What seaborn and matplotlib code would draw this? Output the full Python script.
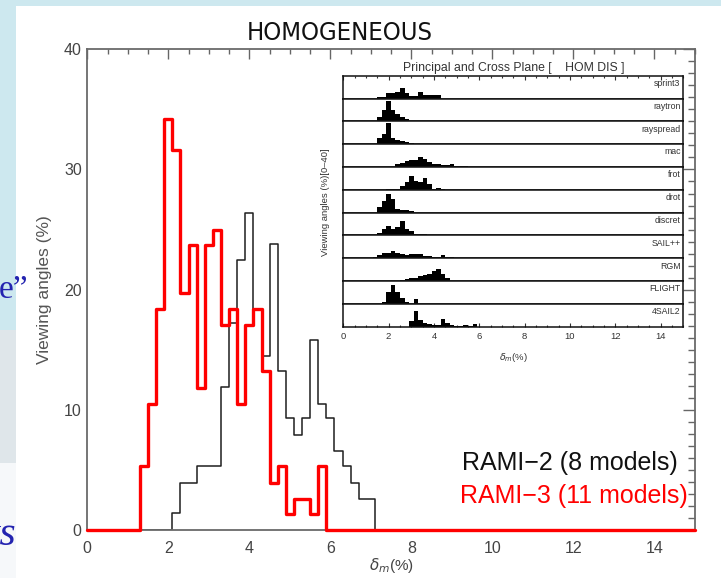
import numpy as np
import matplotlib
matplotlib.use("Agg")
import matplotlib.pyplot as plt
import seaborn as sns
from matplotlib import font_manager
from matplotlib.font_manager import FontProperties
from matplotlib.patches import Rectangle
from matplotlib.ticker import MultipleLocator

# delta_m bins: 0.2 % wide, left edges starting at 1.3 %
bin_start = 1.3
bin_width = 0.2

# main panel: viewing angles (%) per bin
rami2 = [0, 0, 0, 0, 1.4, 3.9, 3.9, 5.3, 5.3, 5.3, 11.9, 17.2, 22.5, 26.4, 18.4,
         14.5, 23.8, 13.2, 9.3, 7.9, 9.3, 15.8, 10.5, 9.3, 6.6, 5.3, 3.9, 2.6, 2.6]
rami3 = [5.3, 10.5, 18.4, 34.2, 31.6, 19.7, 23.7, 11.8, 23.7, 25.0, 17.1, 18.4,
         10.5, 17.1, 18.4, 13.2, 3.9, 5.3, 1.3, 2.6, 2.6, 1.3, 5.3, 0, 0, 0, 0, 0, 0]

# inset: one histogram per model, same bin grid
inset_models = ["sprint3", "raytron", "rayspread", "mac", "frot", "drot",
                "discret", "SAIL++", "RGM", "FLIGHT", "4SAIL2"]
sprint3 = [0, 2, 3, 9, 9, 12, 19, 9, 5, 5, 12, 7, 6, 6, 6]
raytron = [0, 7, 19, 35, 20, 13, 7, 4]
rayspread = [0, 10, 18, 37, 10, 8, 6, 4, 2]
mac = [0, 0, 0, 0, 0, 6, 7, 10, 12, 12, 18, 14, 9, 6, 6, 4, 3, 5, 2, 2, 1]
frot = [0, 0, 0, 1, 1, 2, 7, 14, 25, 15, 13, 20, 11, 2, 4, 2]
drot = [0, 9, 20, 33, 23, 7, 5, 4, 3]
discret = [0, 4, 11, 16, 12, 15, 25, 11, 7, 3, 3, 3]
sailpp = [3, 6, 9, 10, 12, 10, 8, 6, 8, 8, 8, 4, 4, 3, 2, 5, 2, 2]
rgm = [0, 0, 0, 0, 0, 0, 2, 3, 5, 6, 9, 11, 13, 18, 21, 13, 6]
flight = [0, 0, 4, 21, 33, 20, 10, 4, 0, 8]
foursail2 = [0, 0, 0, 0, 0, 0, 0, 0, 10, 28, 12, 6, 4, 3, 3, 13, 6, 3, 2, 1, 3, 1, 4]
inset_values = [sprint3, raytron, rayspread, mac, frot, drot,
                discret, sailpp, rgm, flight, foursail2]

sns.set_theme(style="white")
plt.rcParams["font.family"] = ["Liberation Sans", "DejaVu Sans"]

def hist_bins(values):
    left = bin_start + bin_width * np.arange(len(values))
    edges = np.concatenate([[0], left, [left[-1] + bin_width, 15]])
    weights = np.concatenate([[0], values, [0]])
    centers = (edges[:-1] + edges[1:]) / 2
    return list(centers), list(weights), list(edges)

def narrow_font():
    # look for a condensed sans face, if any is installed
    for f in font_manager.fontManager.ttflist:
        key = (f.name + " " + f.fname).lower()
        if ("narrow" in key or "condensed" in key) and "mono" not in key \
                and "serif" not in key and "bold" not in key \
                and "oblique" not in key and "italic" not in key:
            return f.fname
    return None

W, H = 721, 578
fig = plt.figure(figsize=(W / 100, H / 100), dpi=100, facecolor="#cde8ef")

# slide background around the chart
fig.patches.append(Rectangle((16 / W, 0), 1, 1 - 6 / H, transform=fig.transFigure,
                             facecolor="white", edgecolor="none", zorder=-2))
fig.patches.append(Rectangle((0, 1 - 463 / H), 16 / W, 133 / H, transform=fig.transFigure,
                             facecolor="#dfe6ea", edgecolor="none", zorder=-2))
fig.patches.append(Rectangle((0, 0), 16 / W, 1 - 463 / H, transform=fig.transFigure,
                             facecolor="#f6f8fa", edgecolor="none", zorder=-2))
fig.text(28 / W, 1 - 298 / H, "e\u201d", color="#2424b0", fontsize=24,
         family="Liberation Serif", ha="right", va="baseline")
fig.text(17 / W, 1 - 545 / H, "ks", color="#2424b0", fontsize=30, style="italic",
         family="Liberation Serif", ha="right", va="baseline")

# main axes
ax = fig.add_axes([87.3 / W, 1 - 530 / H, 607.7 / W, 480.7 / H])
x2, w2, e2 = hist_bins(rami2)
sns.histplot(x=x2, weights=w2, bins=e2, element="step", fill=False,
             color="#1e1e1e", linewidth=1.1, ax=ax)
x3, w3, e3 = hist_bins(rami3)
sns.histplot(x=x3, weights=w3, bins=e3, element="step", fill=False,
             color="#ff0000", linewidth=2.4, ax=ax)
ax.lines[-1].set_clip_on(False)
ax.lines[-1].set_zorder(4)

ax.set_xlim(0, 15)
ax.set_ylim(0, 40)
ax.xaxis.set_major_locator(MultipleLocator(2))
ax.xaxis.set_minor_locator(MultipleLocator(0.5))
ax.yaxis.set_major_locator(MultipleLocator(10))
ax.yaxis.set_minor_locator(MultipleLocator(1))
ax.tick_params(which="both", direction="in", top=True, right=True,
               color="#666666", labelcolor="#444444", labelsize=11.5)
ax.tick_params(axis="x", which="major", length=7, width=1, pad=8)
ax.tick_params(axis="x", which="minor", length=3.5, width=1)
ax.tick_params(axis="y", which="major", length=9, width=1, pad=4)
ax.tick_params(axis="y", which="minor", length=5, width=1)
for s in ax.spines.values():
    s.set_color("#6a6a6a")
    s.set_linewidth(1.3)

ax.set_xlabel(r"$\delta_m$(%)", fontsize=11, color="#444444", labelpad=0)
ax.set_ylabel("Viewing angles (%)", fontsize=12.5, color="#555555")
ax.yaxis.set_label_coords(-0.058, 0.5)

ax.text(0.617, 0.1248, "RAMI\u22122 (8 models)", transform=ax.transAxes,
        fontsize=18, color="#111111", ha="left", va="baseline")
ax.text(0.613, 0.0555, "RAMI\u22123 (11 models)", transform=ax.transAxes,
        fontsize=18, color="#ff0000", ha="left", va="baseline", zorder=5)

# title: a condensed face if present, sized to the reference width
nf = narrow_font()
tprops = FontProperties(fname=nf) if nf else FontProperties(family="Liberation Sans")
title = fig.text(340 / W, 1 - 40 / H, "HOMOGENEOUS", fontproperties=tprops,
                 ha="center", va="baseline", color="#111111")
title.set_fontsize(22)
fig.canvas.draw()
tw = title.get_window_extent(fig.canvas.get_renderer()).width
title.set_fontsize(max(17.5, min(22, 22 * 186 / tw)))

# inset: stacked per-model histograms
in_left, in_right = 343.3 / W, 683.3 / W
in_top, in_bottom = 1 - 75.7 / H, 1 - 326.7 / H
ph = (in_top - in_bottom) / len(inset_models)
for i, (name, vals) in enumerate(zip(inset_models, inset_values)):
    a = fig.add_axes([in_left, in_top - (i + 1) * ph, in_right - in_left, ph])
    xi, wi, ei = hist_bins(vals)
    sns.histplot(x=xi, weights=wi, bins=ei, element="step", fill=True,
                 color="black", alpha=1, linewidth=0, ax=a)
    a.set_xlim(0, 15)
    a.set_ylim(0, 40)
    a.set_yticks([])
    a.set_xlabel("")
    a.set_ylabel("")
    for s in a.spines.values():
        s.set_color("#111111")
        s.set_linewidth(1.1)
    a.text(0.992, 0.66, name, transform=a.transAxes, ha="right", va="center",
           fontsize=6.3, color="#333333")
    a.xaxis.set_major_locator(MultipleLocator(2))
    a.xaxis.set_minor_locator(MultipleLocator(0.5))
    if i == 0:
        a.tick_params(which="both", direction="in", bottom=False, top=True,
                      labelbottom=False, color="#333333")
        a.tick_params(which="major", length=3, width=0.8)
        a.tick_params(which="minor", length=1.5, width=0.8)
    elif i == len(inset_models) - 1:
        a.tick_params(which="both", direction="in", bottom=True, top=False,
                      labelsize=6.8, labelcolor="#333333", color="#333333", pad=4)
        a.tick_params(which="major", length=3, width=0.8)
        a.tick_params(which="minor", length=1.5, width=0.8)
        a.set_xlabel(r"$\delta_m$(%)", fontsize=6.8, color="#333333", labelpad=7)
    else:
        a.tick_params(which="both", bottom=False, top=False, labelbottom=False)

fig.text((in_left + in_right) / 2, 1 - 68 / H,
         "Principal and Cross Plane [    HOM DIS ]", fontsize=8.8,
         color="#333333", ha="center", va="center")
fig.text(325 / W, 1 - 202 / H, "Viewing angles (%)[0\u201340]", fontsize=6.8,
         color="#333333", rotation=90, ha="center", va="center")

fig.savefig("out.png", dpi=100, facecolor=fig.get_facecolor())
